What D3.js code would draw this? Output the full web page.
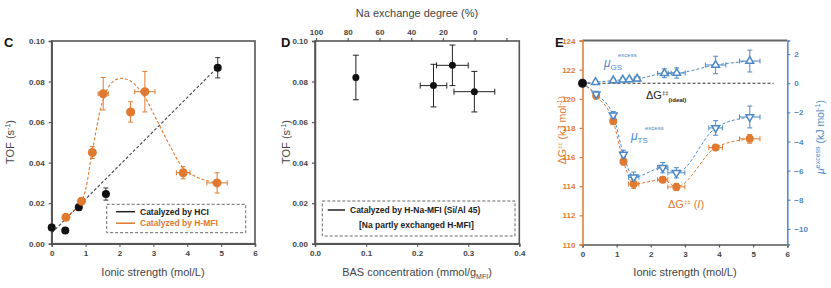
<!DOCTYPE html>
<html>
<head>
<meta charset="utf-8">
<script src="https://cdn.jsdelivr.net/npm/d3@7"></script>
<style>
  body { margin: 0; background: #fff; }
  svg { font-family: "Liberation Sans", Arial, sans-serif; }
</style>
</head>
<body>
<script>
// ---- data ----
// Panel C: TOF vs ionic strength
const cHclX = [0, 0.4, 0.8, 1.6, 4.9]
const cHclY = [0.008, 0.0065, 0.018, 0.0245, 0.0868]
const cHclYErr = [0.0015, 0.001, 0.0015, 0.003, 0.005]
const cMfiX = [0.42, 0.88, 1.2, 1.52, 2.33, 2.75, 3.88, 4.88]
const cMfiY = [0.013, 0.021, 0.045, 0.074, 0.065, 0.075, 0.035, 0.030]
const cMfiYErr = [0.0015, 0.0015, 0.003, 0.008, 0.005, 0.010, 0.003, 0.005]
const cMfiXErr = [0.05, 0.05, 0.05, 0.15, 0.1, 0.3, 0.2, 0.3]
const cHclFit = [[0, 0.0053], [4.88, 0.0868]]
const cMfiFit = [[0.42, 0.013], [0.88, 0.021], [1.2, 0.046], [1.5, 0.07], [1.75, 0.079],
  [2.0, 0.0815], [2.3, 0.0805], [2.7, 0.0735], [3.1, 0.061], [3.5, 0.048], [3.9, 0.037],
  [4.4, 0.032], [4.88, 0.030]]

// Panel D: TOF vs BAS concentration
const dX = [0.08, 0.232, 0.269, 0.312]
const dY = [0.082, 0.078, 0.088, 0.075]
const dXErr = [0.003, 0.026, 0.031, 0.04]
const dYErr = [0.011, 0.0105, 0.010, 0.010]
const naTicks = [100, 80, 60, 40, 20, 0, -20]

// Panel E: free energies vs ionic strength
const eIdeal = 121.07
const eX = [0.4, 0.9, 1.2, 1.5, 2.35, 2.75, 3.9, 4.9]
const eDG = [120.2, 118.45, 115.7, 114.15, 114.45, 113.95, 116.65, 117.25]
const eTS = [-0.75, -2.2, -4.9, -6.45, -5.8, -6.15, -3.07, -2.32]
const eGsX = [0.38, 0.9, 1.18, 1.37, 1.6, 2.4, 2.76, 3.9, 4.9]
const eGs = [0.07, 0.18, 0.23, 0.26, 0.3, 0.68, 0.7, 1.25, 1.52]
const eXErr = [0.06, 0.06, 0.06, 0.15, 0.15, 0.25, 0.2, 0.3]
const eGsXErr = [0.05, 0.05, 0.05, 0.05, 0.08, 0.2, 0.25, 0.3, 0.3]
const eGsErr = [0.1, 0.1, 0.1, 0.1, 0.15, 0.3, 0.35, 0.6, 0.75]
const eTSErr = [0.2, 0.25, 0.3, 0.35, 0.35, 0.35, 0.5, 0.75]
const eDGErr = [0.2, 0.2, 0.25, 0.3, 0.2, 0.25, 0.15, 0.3]

const ORANGE = "#e07a30"
const BLUE = "#4d88c6"
const AXIS = "#555"
const TXT = "#444"

const svg = d3.select("body").append("svg").attr("width", 831).attr("height", 288)

function styleAxis(g, color) {
  g.select(".domain").attr("stroke", color || AXIS).attr("stroke-width", 1.5)
  g.selectAll(".tick line").attr("stroke", color || AXIS).attr("stroke-width", 1.2)
  g.selectAll(".tick text").attr("fill", color || TXT).style("font-size", "8px").style("font-weight", "bold")
}

function errBars(g, pts, x, y, color, cap) {
  // pts: {x, y, xe, ye}
  pts.forEach((p) => {
    if (p.ye) {
      g.append("line").attr("x1", x(p.x)).attr("x2", x(p.x)).attr("y1", y(p.y - p.ye)).attr("y2", y(p.y + p.ye))
        .attr("stroke", color).attr("stroke-width", 1)
      ;[p.y - p.ye, p.y + p.ye].forEach((v) =>
        g.append("line").attr("x1", x(p.x) - cap).attr("x2", x(p.x) + cap).attr("y1", y(v)).attr("y2", y(v))
          .attr("stroke", color).attr("stroke-width", 1))
    }
    if (p.xe) {
      g.append("line").attr("x1", x(p.x - p.xe)).attr("x2", x(p.x + p.xe)).attr("y1", y(p.y)).attr("y2", y(p.y))
        .attr("stroke", color).attr("stroke-width", 1)
      ;[p.x - p.xe, p.x + p.xe].forEach((v) =>
        g.append("line").attr("x1", x(v)).attr("x2", x(v)).attr("y1", y(p.y) - cap).attr("y2", y(p.y) + cap)
          .attr("stroke", color).attr("stroke-width", 1))
    }
  })
}

function panelLabel(t, x, y) {
  svg.append("text").attr("x", x).attr("y", y).text(t)
    .style("font-size", "13px").style("font-weight", "bold").attr("fill", "#111")
}

function tofLabel(x) {
  const t = svg.append("text").attr("transform", `translate(${x},142) rotate(-90)`)
    .attr("text-anchor", "middle").attr("fill", TXT).style("font-size", "11px")
  t.append("tspan").text("TOF (s")
  t.append("tspan").text("-1").attr("dy", -4).style("font-size", "7px")
  t.append("tspan").text(")").attr("dy", 4)
}

// ===== Panel C =====
const xC = d3.scaleLinear().domain([0, 6]).range([51.7, 255])
const yC = d3.scaleLinear().domain([0, 0.1]).range([243.7, 41])
const gC = svg.append("g")

gC.append("rect").attr("x", xC(0)).attr("y", yC(0.1)).attr("width", xC(6) - xC(0)).attr("height", yC(0) - yC(0.1))
  .attr("fill", "none").attr("stroke", AXIS).attr("stroke-width", 1.6)
gC.append("g").attr("transform", `translate(0,${yC(0)})`)
  .call(d3.axisBottom(xC).ticks(6).tickSize(3).tickPadding(4).tickFormat(d3.format("d"))).call(styleAxis)
gC.append("g").attr("transform", `translate(${xC(0)},0)`)
  .call(d3.axisLeft(yC).tickValues([0, 0.02, 0.04, 0.06, 0.08, 0.1]).tickSize(3).tickPadding(4).tickFormat(d3.format(".2f")))
  .call(styleAxis)

const lineC = d3.line().x((d) => xC(d[0])).y((d) => yC(d[1]))
gC.append("path").attr("d", lineC(cHclFit)).attr("fill", "none").attr("stroke", "#444")
  .attr("stroke-width", 1.1).attr("stroke-dasharray", "3,2")
gC.append("path").attr("d", lineC.curve(d3.curveCatmullRom)(cMfiFit)).attr("fill", "none").attr("stroke", ORANGE)
  .attr("stroke-width", 1.1).attr("stroke-dasharray", "3,2")

errBars(gC, cHclX.map((v, i) => ({ x: v, y: cHclY[i], ye: cHclYErr[i] })), xC, yC, "#333", 2.5)
errBars(gC, cMfiX.map((v, i) => ({ x: v, y: cMfiY[i], ye: cMfiYErr[i], xe: cMfiXErr[i] })), xC, yC, ORANGE, 2.5)
gC.selectAll("circle.hcl").data(cHclX).join("circle").attr("class", "hcl")
  .attr("cx", (d) => xC(d)).attr("cy", (d, i) => yC(cHclY[i])).attr("r", 4).attr("fill", "#111")
gC.selectAll("circle.mfi").data(cMfiX).join("circle").attr("class", "mfi")
  .attr("cx", (d) => xC(d)).attr("cy", (d, i) => yC(cMfiY[i])).attr("r", 4.5).attr("fill", ORANGE)

// legend C
gC.append("rect").attr("x", 106.7).attr("y", 204.3).attr("width", 139).attr("height", 28.4)
  .attr("fill", "#fff").attr("stroke", "#666").attr("stroke-dasharray", "3,2")
;[["Catalyzed by HCI", "#222", 214.5], ["Catalyzed by H-MFI", ORANGE, 226]].forEach(([t, c, y]) => {
  gC.append("line").attr("x1", 116).attr("x2", 135).attr("y1", y - 2.8).attr("y2", y - 2.8).attr("stroke", c).attr("stroke-width", 1.5)
  gC.append("text").attr("x", 140).attr("y", y).text(t).attr("fill", c).style("font-size", "8.5px").style("font-weight", "bold")
})

panelLabel("C", 4, 47)
tofLabel(14)
svg.append("text").attr("x", 153).attr("y", 276).attr("text-anchor", "middle").attr("fill", TXT)
  .style("font-size", "11px").text("Ionic strength (mol/L)")

// ===== Panel D =====
const xD = d3.scaleLinear().domain([0, 0.4]).range([315, 519.3])
const yD = d3.scaleLinear().domain([0, 0.1]).range([243.7, 41])
const xTop = d3.scaleLinear().domain([100, 0]).range([316, 474.7])
const gD = svg.append("g")

gD.append("rect").attr("x", xD(0)).attr("y", yD(0.1)).attr("width", xD(0.4) - xD(0)).attr("height", yD(0) - yD(0.1))
  .attr("fill", "none").attr("stroke", AXIS).attr("stroke-width", 1.6)
gD.append("g").attr("transform", `translate(0,${yD(0)})`)
  .call(d3.axisBottom(xD).tickValues([0, 0.1, 0.2, 0.3, 0.4]).tickSize(3).tickPadding(4).tickFormat(d3.format(".1f"))).call(styleAxis)
gD.append("g").attr("transform", `translate(${xD(0)},0)`)
  .call(d3.axisLeft(yD).tickValues([0, 0.02, 0.04, 0.06, 0.08, 0.1]).tickSize(3).tickPadding(4).tickFormat(d3.format(".2f")))
  .call(styleAxis)
gD.append("g").attr("transform", `translate(0,${yD(0.1)})`)
  .call(d3.axisTop(xTop).tickValues(naTicks).tickSize(3).tickPadding(3).tickFormat((d) => (d < 0 ? "" : d)))
  .call(styleAxis)
  .call((g) => g.select(".domain").remove())

errBars(gD, dX.map((v, i) => ({ x: v, y: dY[i], ye: dYErr[i], xe: dXErr[i] })), xD, yD, "#222", 3)
gD.selectAll("circle").data(dX).join("circle")
  .attr("cx", (d) => xD(d)).attr("cy", (d, i) => yD(dY[i])).attr("r", 3.5).attr("fill", "#111")

gD.append("rect").attr("x", 322.3).attr("y", 201).attr("width", 192.7).attr("height", 35)
  .attr("fill", "#fff").attr("stroke", "#666").attr("stroke-dasharray", "3,2")
gD.append("line").attr("x1", 327.7).attr("x2", 345).attr("y1", 210).attr("y2", 210).attr("stroke", "#222").attr("stroke-width", 1.5)
gD.append("text").attr("x", 350).attr("y", 213).text("Catalyzed by H-Na-MFI (Si/Al 45)")
  .attr("fill", "#222").style("font-size", "8.5px").style("font-weight", "bold")
gD.append("text").attr("x", 359).attr("y", 228).text("[Na partly exchanged H-MFI]")
  .attr("fill", "#222").style("font-size", "8.5px").style("font-weight", "bold")

panelLabel("D", 281, 47)
tofLabel(290)
const bas = svg.append("text").attr("x", 417).attr("y", 276).attr("text-anchor", "middle").attr("fill", TXT).style("font-size", "11px")
bas.append("tspan").text("BAS concentration (mmol/g")
bas.append("tspan").text("MFI").attr("dy", 3).style("font-size", "7px")
bas.append("tspan").text(")").attr("dy", -3)
svg.append("text").attr("x", 417).attr("y", 17).attr("text-anchor", "middle").attr("fill", TXT)
  .style("font-size", "11px").text("Na exchange degree (%)")

// ===== Panel E =====
const xE = d3.scaleLinear().domain([0, 6]).range([582.5, 787.3])
const yL = d3.scaleLinear().domain([110, 124]).range([244.5, 40.5])
const yR = d3.scaleLinear().domain([110 - eIdeal, 124 - eIdeal]).range([244.5, 40.5])
const gE = svg.append("g")

gE.append("line").attr("x1", xE(0)).attr("x2", xE(6)).attr("y1", yL(124)).attr("y2", yL(124))
  .attr("stroke", "#666").attr("stroke-width", 2)
gE.append("g").attr("transform", `translate(0,${yL(110)})`)
  .call(d3.axisBottom(xE).ticks(6).tickSize(3).tickPadding(4).tickFormat(d3.format("d"))).call(styleAxis)
gE.append("g").attr("transform", `translate(${xE(0)},0)`)
  .call(d3.axisLeft(yL).tickValues(d3.range(110, 125, 2)).tickSize(3).tickPadding(4)).call((g) => styleAxis(g, ORANGE))
gE.append("g").attr("transform", `translate(${xE(6)},0)`)
  .call(d3.axisRight(yR).tickValues([-10, -8, -6, -4, -2, 0, 2]).tickSize(3).tickPadding(4)).call((g) => styleAxis(g, BLUE))

// ideal line
gE.append("line").attr("x1", xE(0)).attr("x2", xE(5.6)).attr("y1", yR(0)).attr("y2", yR(0))
  .attr("stroke", "#333").attr("stroke-width", 1.1).attr("stroke-dasharray", "3,2")

const lineL = d3.line().x((d) => xE(d[0])).y((d) => yL(d[1])).curve(d3.curveMonotoneX)
const lineR = d3.line().x((d) => xE(d[0])).y((d) => yR(d[1])).curve(d3.curveMonotoneX)
gE.append("path").attr("d", lineL([[0, eIdeal], ...eX.map((v, i) => [v, eDG[i]])]))
  .attr("fill", "none").attr("stroke", ORANGE).attr("stroke-width", 1).attr("stroke-dasharray", "3,2")
gE.append("path").attr("d", lineR([[0, 0], ...eX.map((v, i) => [v, eTS[i]])]))
  .attr("fill", "none").attr("stroke", BLUE).attr("stroke-width", 1).attr("stroke-dasharray", "3,2")
gE.append("path").attr("d", lineR([[0, 0], ...eGsX.map((v, i) => [v, eGs[i]])]))
  .attr("fill", "none").attr("stroke", BLUE).attr("stroke-width", 1).attr("stroke-dasharray", "3,2")

errBars(gE, eX.map((v, i) => ({ x: v, y: eDG[i], ye: eDGErr[i], xe: eXErr[i] })), xE, yL, ORANGE, 2.5)
errBars(gE, eX.map((v, i) => ({ x: v, y: eTS[i], ye: eTSErr[i], xe: eXErr[i] })), xE, yR, BLUE, 2.5)
errBars(gE, eGsX.map((v, i) => ({ x: v, y: eGs[i], ye: eGsErr[i], xe: eGsXErr[i] })), xE, yR, BLUE, 2.5)

gE.selectAll("circle.dg").data(eX).join("circle").attr("class", "dg")
  .attr("cx", (d) => xE(d)).attr("cy", (d, i) => yL(eDG[i])).attr("r", 4).attr("fill", ORANGE)
const tri = d3.symbol().type(d3.symbolTriangle).size(26)
gE.selectAll("path.ts").data(eX).join("path").attr("class", "ts").attr("d", tri)
  .attr("transform", (d, i) => `translate(${xE(d)},${yR(eTS[i])}) rotate(180)`)
  .attr("fill", "#fff").attr("stroke", BLUE).attr("stroke-width", 1.5)
gE.selectAll("path.gs").data(eGsX).join("path").attr("class", "gs").attr("d", tri)
  .attr("transform", (d, i) => `translate(${xE(d)},${yR(eGs[i])})`)
  .attr("fill", "#fff").attr("stroke", BLUE).attr("stroke-width", 1.5)
gE.append("circle").attr("cx", xE(0)).attr("cy", yL(eIdeal)).attr("r", 4.5).attr("fill", "#111")

// annotations
function mu(x, y, sub) {
  const t = gE.append("text").attr("x", x).attr("y", y).attr("fill", BLUE).style("font-size", "12px")
  t.append("tspan").text("μ").style("font-style", "italic")
  t.append("tspan").text(sub).attr("dy", 3).style("font-size", "8px")
  gE.append("text").attr("x", x + 14).attr("y", y - 10).text("excess").attr("fill", BLUE).style("font-size", "6px")
}
mu(604, 67, "GS")
mu(631, 140, "TS")
const ideal = gE.append("text").attr("x", 646).attr("y", 99).attr("fill", "#222").style("font-size", "11px")
ideal.append("tspan").text("ΔG")
ideal.append("tspan").text("‡‡").attr("dy", -4).style("font-size", "6px")
ideal.append("tspan").text("(ideal)").attr("dy", 7).style("font-size", "6px").style("font-weight", "bold")
const dgi = gE.append("text").attr("x", 668).attr("y", 208).attr("fill", ORANGE).style("font-size", "11px")
dgi.append("tspan").text("ΔG")
dgi.append("tspan").text("‡‡").attr("dy", -4).style("font-size", "6px")
dgi.append("tspan").text(" (").attr("dy", 4)
dgi.append("tspan").text("I").style("font-style", "italic")
dgi.append("tspan").text(")")

panelLabel("E", 555, 47)
const lLab = svg.append("text").attr("transform", "translate(566,130) rotate(-90)").attr("text-anchor", "middle")
  .attr("fill", ORANGE).style("font-size", "10.5px")
lLab.append("tspan").text("ΔG")
lLab.append("tspan").text("‡‡").attr("dy", -4).style("font-size", "6px")
lLab.append("tspan").text(" (kJ mol").attr("dy", 4)
lLab.append("tspan").text("-1").attr("dy", -4).style("font-size", "7px")
lLab.append("tspan").text(")").attr("dy", 4)
const rLab = svg.append("text").attr("transform", "translate(824,137) rotate(-90)").attr("text-anchor", "middle")
  .attr("fill", BLUE).style("font-size", "10.5px")
rLab.append("tspan").text("μ").style("font-style", "italic")
rLab.append("tspan").text("excess").attr("dy", -4).style("font-size", "7px")
rLab.append("tspan").text(" (kJ mol").attr("dy", 4)
rLab.append("tspan").text("-1").attr("dy", -4).style("font-size", "7px")
rLab.append("tspan").text(")").attr("dy", 4)
svg.append("text").attr("x", 685).attr("y", 276).attr("text-anchor", "middle").attr("fill", TXT)
  .style("font-size", "11px").text("Ionic strength (mol/L)")
</script>
</body>
</html>
